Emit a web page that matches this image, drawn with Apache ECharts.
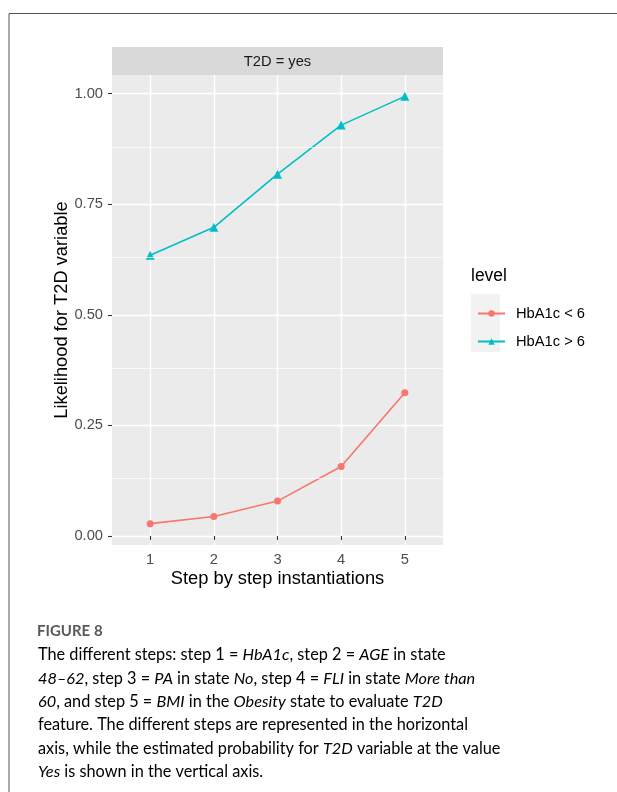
<!DOCTYPE html>
<html>
<head>
<meta charset="utf-8">
<script src="https://cdn.jsdelivr.net/npm/echarts@6/dist/echarts.min.js"></script>
<style>
html,body{margin:0;padding:0;background:#fff;}
#chart{width:617px;height:792px;}
</style>
</head>
<body>
<div id="chart"></div>
<script>
// ---- data ----
const steps = [1, 2, 3, 4, 5];
const seriesNames = ['HbA1c < 6', 'HbA1c > 6'];
const lowValues = [0.028, 0.044, 0.079, 0.157, 0.324];
const highValues = [0.635, 0.698, 0.818, 0.929, 0.994];
const yTicks = [0, 0.25, 0.5, 0.75, 1];
const yMinorTicks = [0.125, 0.375, 0.625, 0.875];
const stripLabel = 'T2D = yes';
const legendTitle = 'level';
const xTitle = 'Step by step instantiations';
const yTitle = 'Likelihood for T2D variable';
const figureLabel = 'FIGURE 8';

// ggplot-like expansion
const allVals = lowValues.concat(highValues);
const dMin = Math.min(...allVals), dMax = Math.max(...allVals);
const yExp = (dMax - dMin) * 0.05;
const yMin = dMin - yExp, yMax = dMax + yExp;
const xMin = steps[0] - 0.6, xMax = steps[steps.length - 1] + 0.6;

const sansFont = '"Liberation Sans", Arial, sans-serif';
const capColor = '#595959';
const capFont = 'Lato, "Open Sans", sans-serif';
const capSize = 16.3;
const capRich = {
  n: {fontFamily: capFont, fontSize: capSize, color: capColor},
  i: {fontFamily: capFont, fontSize: capSize, color: capColor, fontStyle: 'italic'}
};
const captionLines = [
  '{n|The different steps: step 1 = }{i|HbA1c}{n|, step 2 = }{i|AGE}{n| in state}',
  '{i|48–62}{n|, step 3 = }{i|PA}{n| in state }{i|No}{n|, step 4 = }{i|FLI}{n| in state }{i|More than}',
  '{i|60}{n|, and step 5 = }{i|BMI}{n| in the }{i|Obesity}{n| state to evaluate }{i|T2D}',
  '{n|feature. The different steps are represented in the horizontal}',
  '{n|axis, while the estimated probability for }{i|T2D}{n| variable at the value}',
  '{i|Yes}{n| is shown in the vertical axis.}'
];

const chart = echarts.init(document.getElementById('chart'));
const pL = 112, pR = 443, pT = 75, pB = 545;

const graphics = [
  {type: 'line', shape: {x1: 9, y1: 13.5, x2: 617, y2: 13.5}, style: {stroke: '#555', lineWidth: 1}},
  {type: 'line', shape: {x1: 9, y1: 13.5, x2: 9, y2: 792}, style: {stroke: '#555', lineWidth: 1}},
  {type: 'rect', shape: {x: pL, y: 47, width: pR - pL, height: pT - 47}, style: {fill: '#D9D9D9'}, z: 0},
  {type: 'text', x: (pL + pR) / 2, y: 61.5, style: {text: stripLabel, fill: '#1A1A1A', font: '14.7px ' + sansFont, align: 'center', verticalAlign: 'middle'}},
  {type: 'text', x: 471, y: 276, style: {text: legendTitle, fill: '#000', font: '17.5px ' + sansFont, verticalAlign: 'middle'}},
  {type: 'rect', shape: {x: 471, y: 294, width: 29, height: 58}, style: {fill: '#F2F2F2'}, z: 0},
  {type: 'text', x: 277.5, y: 579, style: {text: xTitle, fill: '#000', font: '18.3px ' + sansFont, align: 'center', verticalAlign: 'middle'}},
  {type: 'text', x: 62, y: 310, rotation: Math.PI / 2, style: {text: yTitle, fill: '#000', font: '18.3px ' + sansFont, align: 'center', verticalAlign: 'middle'}},
  {type: 'text', x: 37, y: 631, style: {text: figureLabel, fill: capColor, font: 'bold 15px ' + capFont, verticalAlign: 'middle'}}
];
captionLines.forEach((t, k) => {
  graphics.push({type: 'text', x: 38, y: 655 + k * 23.4, style: {text: t, rich: capRich, verticalAlign: 'middle'}});
});

chart.setOption({
  animation: false,
  backgroundColor: '#fff',
  grid: {left: pL, right: 617 - pR, top: pT, bottom: 792 - pB, show: true, backgroundColor: '#EBEBEB', borderWidth: 0, containLabel: false},
  xAxis: {
    type: 'value', min: xMin, max: xMax,
    axisLine: {show: false},
    axisTick: {show: true, length: 4, lineStyle: {color: '#333', width: 1.1}, customValues: steps},
    axisLabel: {color: '#4D4D4D', fontSize: 14.7, fontFamily: sansFont, margin: 7, customValues: steps, formatter: v => String(v)},
    splitLine: {show: true, lineStyle: {color: '#fff', width: 1.4}}
  },
  yAxis: {
    type: 'value', min: yMin, max: yMax,
    axisLine: {show: false},
    axisTick: {show: true, length: 4, lineStyle: {color: '#333', width: 1.1}, customValues: yTicks},
    axisLabel: {color: '#4D4D4D', fontSize: 14.7, fontFamily: sansFont, margin: 9, customValues: yTicks, formatter: v => v.toFixed(2)},
    splitLine: {show: true, lineStyle: {color: '#fff', width: 1.4}}
  },
  legend: {
    orient: 'vertical', left: 472, top: 301, itemWidth: 27, itemHeight: 8, itemGap: 13,
    data: seriesNames,
    textStyle: {color: '#000', fontSize: 14.7, fontFamily: sansFont, padding: [0, 0, 0, 6]}
  },
  graphic: graphics,
  series: [
    {
      type: 'line', name: '_minor', data: [], silent: true, z: 1,
      markLine: {silent: true, symbol: 'none', label: {show: false}, animation: false,
        lineStyle: {color: '#fff', width: 0.7, type: 'solid'},
        data: yMinorTicks.map(v => ({yAxis: v}))}
    },
    {
      type: 'line', name: seriesNames[0], z: 3,
      data: steps.map((s, i) => [s, lowValues[i]]),
      symbol: 'circle', symbolSize: 7,
      lineStyle: {color: '#F8766D', width: 1.6},
      itemStyle: {color: '#F8766D'}
    },
    {
      type: 'line', name: seriesNames[1], z: 3,
      data: steps.map((s, i) => [s, highValues[i]]),
      symbol: 'triangle', symbolSize: 9,
      lineStyle: {color: '#00BFC4', width: 1.6},
      itemStyle: {color: '#00BFC4'}
    }
  ]
});
</script>
</body>
</html>
